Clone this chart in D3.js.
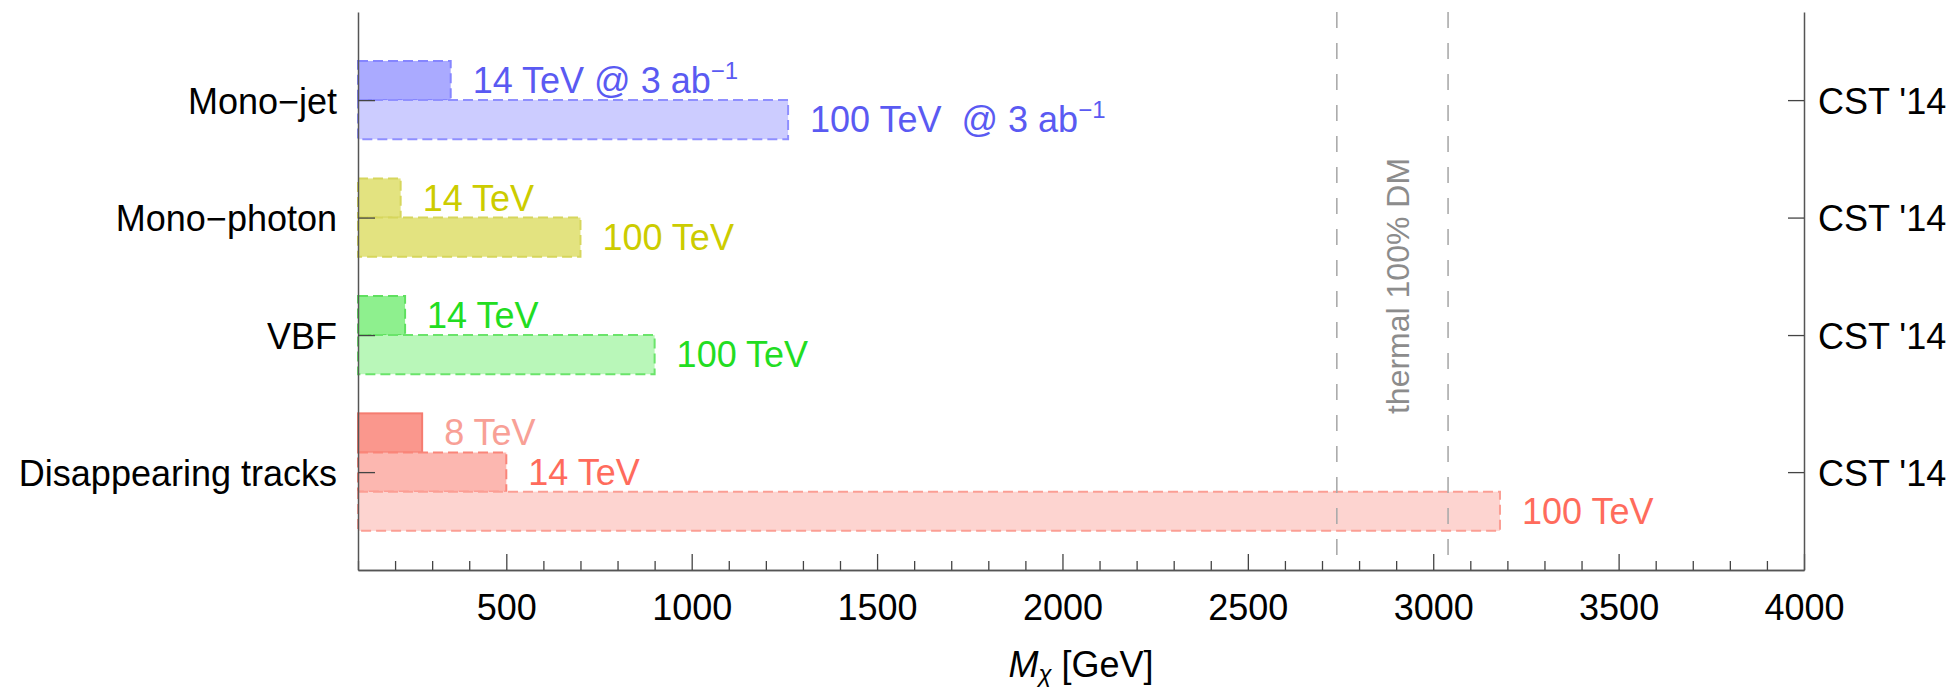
<!DOCTYPE html>
<html>
<head>
<meta charset="utf-8">
<script src="https://cdn.jsdelivr.net/npm/d3@7"></script>
<style>
  html, body { margin: 0; padding: 0; background: #fff; }
  svg text { font-family: "Liberation Sans", Arial, Helvetica, sans-serif; white-space: pre; }
</style>
</head>
<body>
<svg id="chart" width="1957" height="689"></svg>
<script>
// Collider reach for wino-like dark matter, by search channel.
const categories = ["Mono\u2212jet", "Mono\u2212photon", "VBF", "Disappearing tracks"];
const categoryPos = [9.5, 6.5, 3.5, 0];           // band centres, in bar heights
const rightLabels = ["CST '14", "CST '14", "CST '14", "CST '14"];

// One entry per bar
const barCategory = [0, 0, 1, 1, 2, 2, 3, 3, 3];
const barSlot     = [0.5, -0.5, 0.5, -0.5, 0.5, -0.5, 1, 0, -1];
const barReach    = [350, 1260, 215, 700, 227, 900, 273, 500, 3180];   // GeV
const barText     = ["14 TeV @ 3 ab", "100 TeV\u00a0 @ 3 ab", "14 TeV", "100 TeV",
                     "14 TeV", "100 TeV", "8 TeV", "14 TeV", "100 TeV"];
const barSup      = ["\u22121", "\u22121", "", "", "", "", "", "", ""];
const barFill     = ["#aaaaff", "#ccccff", "#e3e380", "#e3e380", "#8ef08e", "#b9f7b9",
                     "#fa978d", "#fcb7b0", "#fdd4d0"];
const barStroke   = ["#8585ff", "#8f8fff", "#d6d65c", "#d6d65c", "#5fe05f", "#6ae46a",
                     "#f57c70", "#fa8579", "#fb9e94"];
const barDashed   = [true, true, true, true, true, true, false, true, true];
const barInk      = ["#5a5af2", "#5a5af2", "#cccc00", "#cccc00", "#22dd22", "#22dd22",
                     "#f8a096", "#ff6b5c", "#ff6b5c"];

// Thermal relic mass window
const thermalBand = [2740, 3040];
const thermalText = "thermal 100% DM";

const xMajor = [500, 1000, 1500, 2000, 2500, 3000, 3500, 4000];
const xMinor = d3.range(100, 4001, 100).filter(v => v % 500 !== 0);

const svg = d3.select("#chart");
const plotL = 358, plotR = 1804, plotT = 12, plotB = 570;
const FS = 36;

const x = d3.scaleLinear().domain([100, 4000]).range([plotL, plotR]);
const y = d3.scaleLinear().domain([-2.5, 11.75]).range([plotB, plotT]);
const unit = y(0) - y(1);

// bars
const bars = barReach.map((v, i) => ({
  i, v,
  yc: categoryPos[barCategory[i]] + barSlot[i]
}));

svg.append("g").selectAll("rect").data(bars).join("rect")
  .attr("x", x(100))
  .attr("y", d => y(d.yc + 0.5))
  .attr("width", d => x(d.v) - x(100))
  .attr("height", unit)
  .attr("fill", d => barFill[d.i])
  .attr("stroke", d => barStroke[d.i])
  .attr("stroke-width", 2)
  .attr("stroke-dasharray", d => barDashed[d.i] ? "10,5" : null);

// bar labels
const lab = svg.append("g").selectAll("text").data(bars).join("text")
  .attr("x", d => x(d.v) + 22)
  .attr("y", d => y(d.yc) + 12.5)
  .attr("fill", d => barInk[d.i])
  .attr("font-size", FS);
lab.append("tspan").text(d => barText[d.i]);
lab.filter(d => barSup[d.i]).append("tspan")
  .attr("dy", -14).attr("font-size", 24)
  .text(d => barSup[d.i]);

// thermal window
svg.append("g").selectAll("line").data(thermalBand).join("line")
  .attr("x1", d => x(d)).attr("x2", d => x(d))
  .attr("y1", plotT).attr("y2", plotB)
  .attr("stroke", "#ababab").attr("stroke-width", 1.6)
  .attr("stroke-dasharray", "16,15");

const tx = (x(thermalBand[0]) + x(thermalBand[1])) / 2 + 6;
svg.append("text")
  .attr("transform", `translate(${tx},286) rotate(-90)`)
  .attr("text-anchor", "middle")
  .attr("dominant-baseline", "central")
  .attr("fill", "#8c8c8c")
  .attr("font-size", 32)
  .text(thermalText);

// axes
function styleAxis(g) {
  g.selectAll(".domain").attr("stroke", "#555").attr("stroke-width", 1.5);
  g.selectAll(".tick line").attr("stroke", "#444").attr("stroke-width", 1.3);
  g.selectAll(".tick text").attr("font-size", FS).attr("fill", "#000")
    .style("font-family", "'Liberation Sans', Arial, sans-serif");
}

svg.append("g").attr("transform", `translate(0,${plotB})`)
  .call(d3.axisBottom(x).tickValues(xMinor).tickSize(-9).tickSizeOuter(0).tickFormat(""))
  .call(styleAxis);
svg.append("g").attr("transform", `translate(0,${plotB})`)
  .call(d3.axisBottom(x).tickValues(xMajor).tickSizeInner(-16).tickSizeOuter(0)
        .tickPadding(24).tickFormat(d3.format("d")))
  .call(styleAxis);

svg.append("g").attr("transform", `translate(${plotL},0)`)
  .call(d3.axisLeft(y).tickValues(categoryPos).tickSizeInner(-17).tickSizeOuter(0)
        .tickPadding(21).tickFormat((d, i) => categories[i]))
  .call(styleAxis)
  .call(g => g.selectAll(".tick text").attr("dy", "0.36em"));

svg.append("g").attr("transform", `translate(${plotR},0)`)
  .call(d3.axisRight(y).tickValues(categoryPos).tickSizeInner(-16).tickSizeOuter(0)
        .tickPadding(14).tickFormat((d, i) => rightLabels[i]))
  .call(styleAxis)
  .call(g => g.selectAll(".tick text").attr("dy", "0.36em"));

// x-axis title
const title = svg.append("text")
  .attr("x", (plotL + plotR) / 2)
  .attr("y", 677)
  .attr("text-anchor", "middle")
  .attr("font-size", FS)
  .attr("fill", "#000");
title.append("tspan").attr("font-style", "italic").text("M");
title.append("tspan").attr("font-style", "italic").attr("font-size", 24).attr("dy", 5).text("\u03c7");
title.append("tspan").attr("dy", -5).text(" [GeV]");
</script>
</body>
</html>
